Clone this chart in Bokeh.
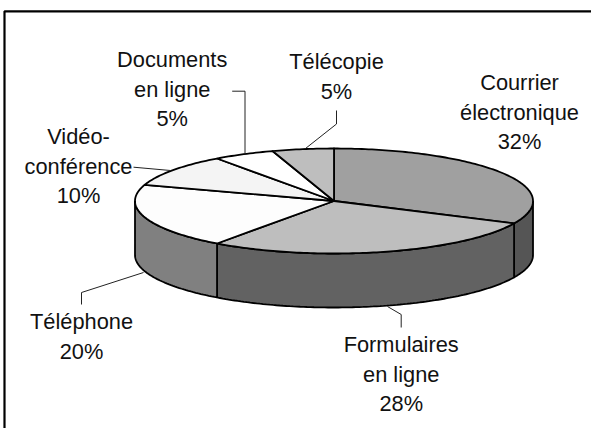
import math
from bokeh.plotting import figure
from bokeh.models import Range1d
from bokeh.core.properties import value
from bokeh.embed import file_html
from bokeh.resources import INLINE

# --- data ---
categories = ["Courrier électronique", "Formulaires en ligne", "Téléphone",
              "Vidéo-conférence", "Documents en ligne", "Télécopie"]
shares = [32, 28, 20, 10, 5, 5]
label_lines = [["Courrier", "électronique"], ["Formulaires", "en ligne"], ["Téléphone"],
               ["Vidéo-", "conférence"], ["Documents", "en ligne"], ["Télécopie"]]

# --- styles and layout ---
top_colors = ["#A0A0A0", "#BEBEBE", "#FDFDFD", "#F4F4F4", "#FFFFFF", "#BEBEBE"]
side_colors = ["#555555", "#626262", "#808080", None, None, None]
CX, CY, RX, RY, DEPTH = 333.5, 200.5, 199.0, 52.5, 54.0
W, H = 591, 428
FONT = value("Liberation Sans")
FS = "21.8px"
label_x = [519, 400.7, 81, 78, 171.7, 336]
label_y = [83, 345, 322, 137, 60, 62]
LINE_STEP = 29.2
leaders = [
    None,
    ([400.7, 400.7, 387], [327, 314, 306]),
    ([81, 81, 143], [304, 292, 272]),
    ([133, 170], [166.7, 170]),
    ([231.7, 244.5, 244.5], [90.7, 90.7, 153]),
    ([336, 336, 305], [110, 123.5, 148]),
]


def pt(deg, dy=0.0):
    a = math.radians(deg)
    return CX + RX * math.sin(a), CY - RY * math.cos(a) + dy


def arc(a0, a1, dy=0.0):
    n = max(2, int(abs(a1 - a0)) + 1)
    pts = [pt(a0 + (a1 - a0) * i / (n - 1), dy) for i in range(n)]
    return [q[0] for q in pts], [q[1] for q in pts]


p = figure(width=W, height=H, output_backend="svg", toolbar_location=None,
           x_range=Range1d(0, W), y_range=Range1d(H, 0),
           min_border=0, outline_line_color=None, background_fill_color="white",
           border_fill_color="white")
p.axis.visible = False
p.grid.visible = False

# frame (only top and left edges are in view)
p.line([4, 4, W], [H, 10.8, 10.8], line_color="black", line_width=2.2)

total = sum(shares)
angles = [0.0]
for s in shares:
    angles.append(angles[-1] + 360.0 * s / total)

# sides of the visible front half
for i, c in enumerate(side_colors):
    a0, a1 = max(angles[i], 90.0), min(angles[i + 1], 270.0)
    if c is None or a1 <= a0:
        continue
    xt, yt = arc(a0, a1)
    xb, yb = arc(a1, a0, DEPTH)
    p.patch(xt + xb, yt + yb, fill_color=c, line_color="black", line_width=1.8)

# top faces
for i, c in enumerate(top_colors):
    xs, ys = arc(angles[i], angles[i + 1])
    p.patch([CX] + xs, [CY] + ys, fill_color=c, line_color="black", line_width=1.8,
            line_join="round")

# leader lines
for seg in leaders:
    if seg:
        p.line(seg[0], seg[1], line_color="#222222", line_width=1)

# labels
tx, ty, tt = [], [], []
for lines, s, x, y in zip(label_lines, shares, label_x, label_y):
    for j, t in enumerate(lines + [f"{s}%"]):
        tx.append(x)
        ty.append(y - 0.7 + j * LINE_STEP)
        tt.append(t)
p.text(tx, ty, text=tt, text_font=FONT, text_font_size=FS, text_color="#111111",
       text_align="center", text_baseline="middle")

open("out.html", "w").write(file_html(p, INLINE))
